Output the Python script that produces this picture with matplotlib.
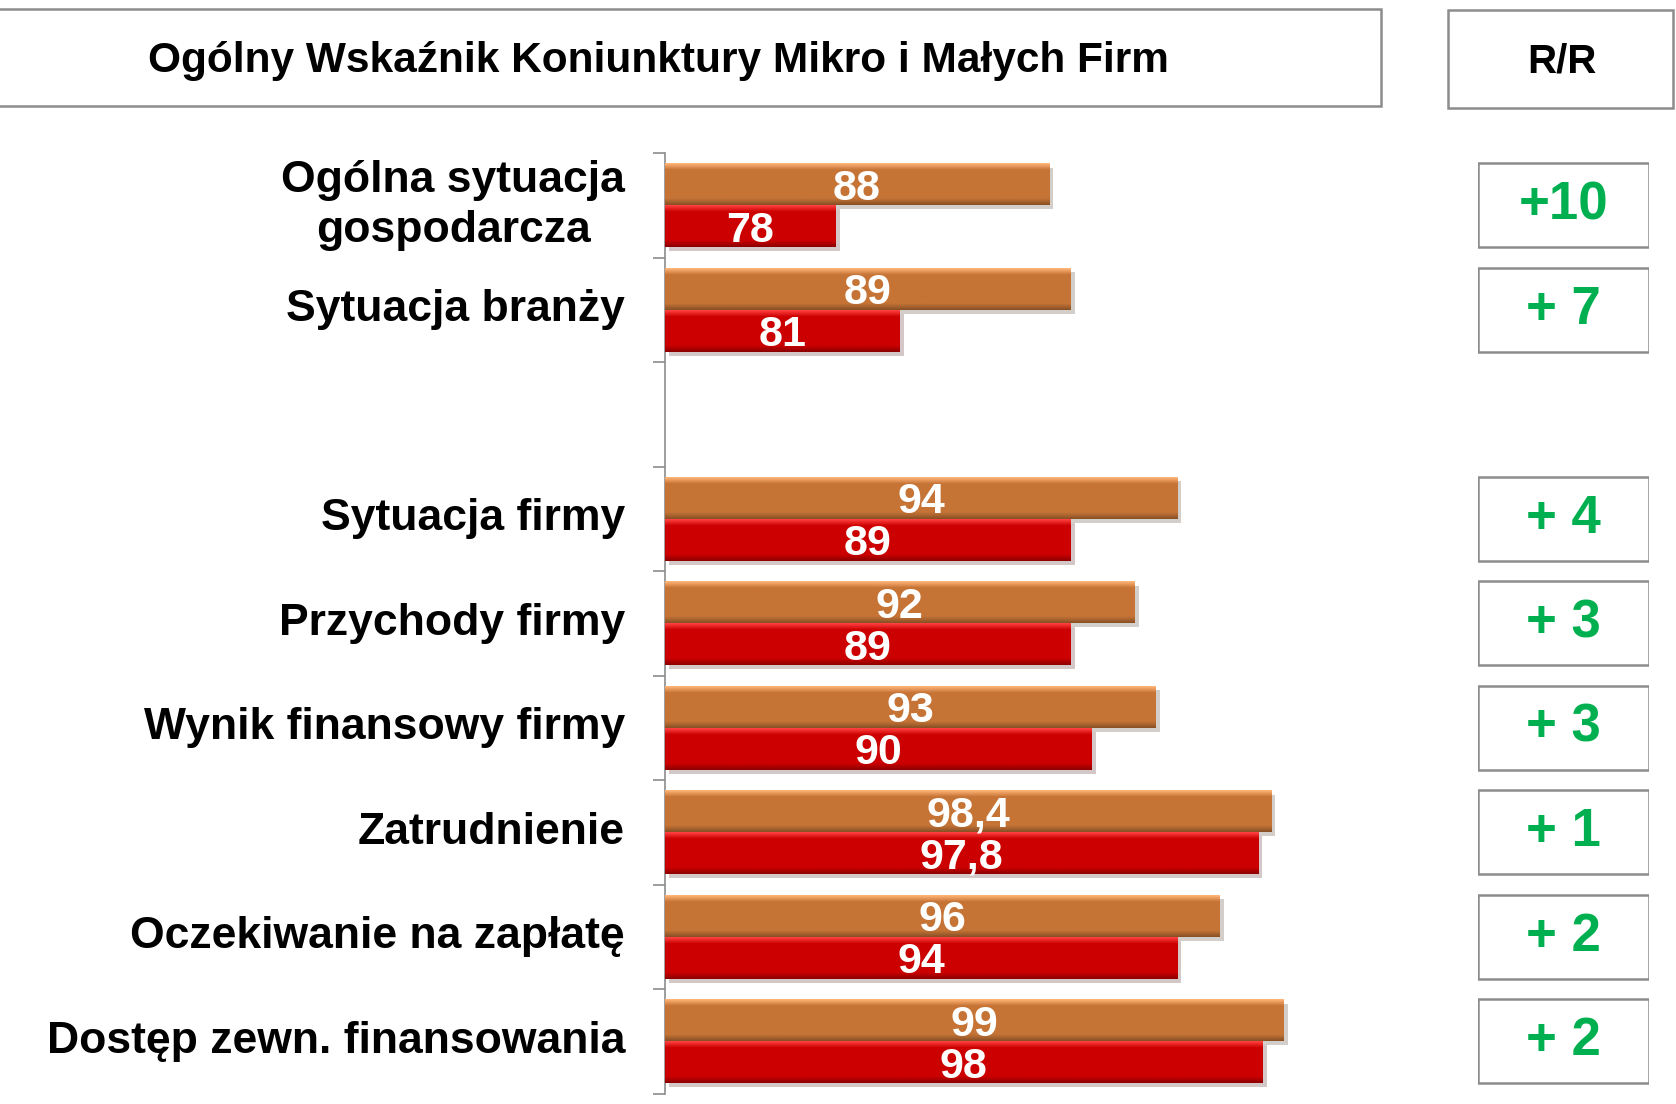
import numpy as np
import matplotlib
matplotlib.use("Agg")
import matplotlib.pyplot as plt
from matplotlib.patches import Rectangle
from matplotlib import patheffects as pe
from matplotlib.colors import to_rgb

plt.rcParams["font.family"] = ["Liberation Sans", "DejaVu Sans"]
plt.rcParams["font.weight"] = "bold"

# categories top to bottom; None = empty slot separating the two groups
categories = ["Ogólna sytuacja\ngospodarcza", "Sytuacja branży", None,
              "Sytuacja firmy", "Przychody firmy", "Wynik finansowy firmy",
              "Zatrudnienie", "Oczekiwanie na zapłatę", "Dostęp zewn. finansowania"]
current = [88, 89, None, 94, 92, 93, 98.4, 96, 99]
previous = [78, 81, None, 89, 89, 90, 97.8, 94, 98]
rr_labels = ["+10", "+ 7", None, "+ 4", "+ 3", "+ 3", "+ 1", "+ 2", "+ 2"]

title = "Ogólny Wskaźnik Koniunktury Mikro i Małych Firm"
rr_title = "R/R"

ORANGE = "#C67436"
RED = "#CC0000"
GREEN = "#00B050"
BOX_EDGE = "#8C8C8C"


def fmt(v):
    return f"{v:.1f}".replace(".", ",") if v % 1 else f"{v:.0f}"


def bevel(ax, patch, color):
    # fake the PowerPoint bevel: light top edge, flat middle, dark bottom edge
    base = np.array(to_rgb(color))
    light = np.clip(base + 0.25, 0, 1)
    dark = base * 0.7
    n = 40
    t = np.linspace(0, 1, n)
    col = np.empty((n, 1, 3))
    for k, tt in enumerate(t):
        if tt < 0.15:
            c = light + (base - light) * tt / 0.15
        elif tt > 0.85:
            c = base + (dark - base) * (tt - 0.85) / 0.15
        else:
            c = base
        col[k, 0] = c
    x0, y0 = patch.get_x(), patch.get_y()
    w, h = patch.get_width(), patch.get_height()
    # axis is inverted, so the image top row goes to y0 (upper edge on screen)
    im = ax.imshow(col, extent=(x0, x0 + w, y0 + h, y0), aspect="auto",
                   interpolation="bilinear", zorder=3)
    im.set_clip_path(patch)


fig = plt.figure(figsize=(16.76, 11.04), dpi=100)

ax = fig.add_axes([0.3968, 0.0095, 0.382, 0.8519])
h = 0.4
for i, (c, p) in enumerate(zip(current, previous)):
    if c is None:
        continue
    for val, yy, color in ((c, i - h / 2, ORANGE), (p, i + h / 2, RED)):
        bar = ax.barh(yy, val - 70, left=70, height=h, color=color,
                      edgecolor="none", zorder=2)[0]
        bar.set_path_effects([pe.withSimplePatchShadow(offset=(3, -3), alpha=0.22)])
        bevel(ax, bar, color)
        ax.text(70 + (val - 70) / 2, yy, fmt(val), ha="center", va="center_baseline",
                color="white", fontsize=31, fontweight="bold", zorder=5)

ax.set_xlim(70, 100)
ax.set_ylim(len(categories) - 0.5, -0.5)
ax.set_yticks(np.arange(-0.5, len(categories), 1.0))
ax.set_yticklabels([])
ax.tick_params(axis="y", length=9, width=1.2, color="#8C8C8C")
ax.set_xticks([])
for s in ("top", "right", "bottom"):
    ax.spines[s].set_visible(False)
ax.spines["left"].set_color("#8C8C8C")
ax.spines["left"].set_linewidth(1.2)

for i, lab in enumerate(categories):
    if lab is None:
        continue
    ax.text(-0.0625, i, lab, transform=ax.get_yaxis_transform(), ha="right",
            va="center", multialignment="center", fontsize=32,
            fontweight="bold", color="black", linespacing=1.28)

# R/R column
ax2 = fig.add_axes([0.8819, 0.0095, 0.1020, 0.8519])
ax2.set_xlim(0, 1)
ax2.set_ylim(len(categories) - 0.5, -0.5)
ax2.axis("off")
for i, lab in enumerate(rr_labels):
    if lab is None:
        continue
    ax2.add_patch(Rectangle((0, i - 0.4), 1, 0.8, facecolor="white",
                            edgecolor=BOX_EDGE, linewidth=1.8))
    ax2.text(0.5, i, lab, ha="center", va="center", fontsize=38,
             fontweight="bold", color=GREEN)

# header boxes
fig.patches.append(Rectangle((-0.01, 0.904), 0.834, 0.0883, transform=fig.transFigure,
                             facecolor="white", edgecolor=BOX_EDGE, linewidth=1.8))
fig.text(0.3926, 0.9447, title, ha="center", va="center", fontsize=30.5,
         fontweight="bold", color="black")
fig.patches.append(Rectangle((0.864, 0.902), 0.1345, 0.0893, transform=fig.transFigure,
                             facecolor="white", edgecolor=BOX_EDGE, linewidth=1.8))
fig.text(0.9318, 0.9447, rr_title, ha="center", va="center", fontsize=29,
         fontweight="bold", color="black")

fig.savefig("out.png", dpi=100, facecolor="white")
